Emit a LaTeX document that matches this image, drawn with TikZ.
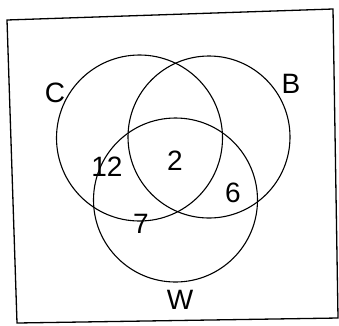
\documentclass[tikz,border=0pt]{standalone}
\usepackage{fontspec}
\setmainfont{Liberation Sans}
\begin{document}
\begin{tikzpicture}[x=1pt,y=-1pt,
  setcircle/.style={draw, circle, line width=1.1pt, inner sep=0pt, minimum size=#1},
  lbl/.style={font=\fontsize{28}{28}\selectfont, inner sep=0pt}]
\useasboundingbox (0,0) rectangle (339,325);
\draw[line width=1.3pt] (7,20) -- (333,9) -- (338,318) -- (17,323) -- cycle;
\node[setcircle=166pt] (cC) at (139.5,138) {};
\node[setcircle=162pt] (cB) at (209,137) {};
\node[setcircle=164pt] (cW) at (175.5,200) {};
\node[lbl] (lC) at (55,93) {C};
\node[lbl] (lB) at (291,84) {B};
\node[lbl] (lW) at (180,300) {W};
\node[lbl] (n12) at (107,167) {12};
\node[lbl] (n2) at (175,161) {2};
\node[lbl] (n6) at (233,193) {6};
\node[lbl] (n7) at (141,224) {7};
\end{tikzpicture}
\end{document}
